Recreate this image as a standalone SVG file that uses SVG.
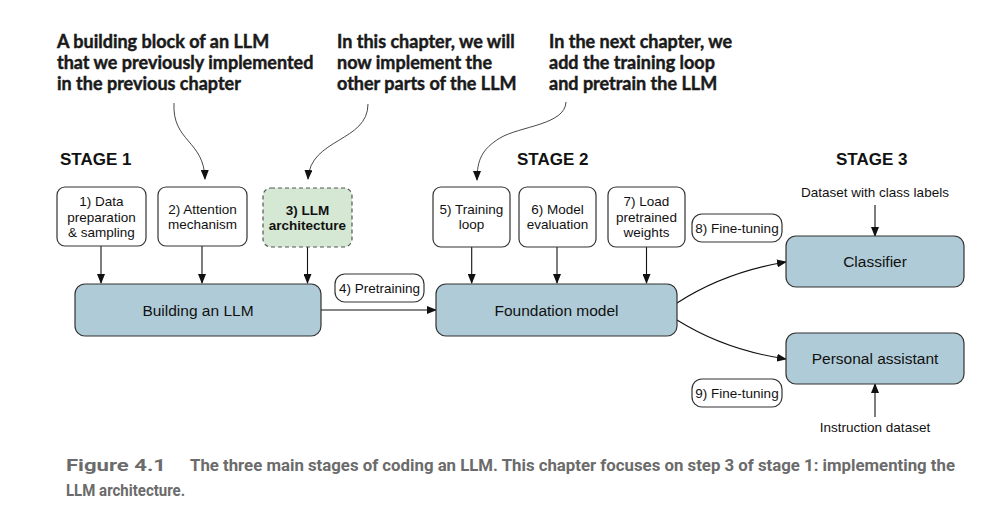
<svg xmlns="http://www.w3.org/2000/svg" width="988" height="520" viewBox="0 0 988 520">
<style>
.ann{font-family:Lato,"Open Sans","Liberation Sans",sans-serif;font-weight:bold;font-size:18px;fill:#1a1a1a;stroke:#1a1a1a;stroke-width:0.45}
.stage{font-family:"Liberation Sans",Arial,sans-serif;font-weight:bold;font-size:17px;fill:#111}
.t{font-family:"Liberation Sans",Arial,sans-serif;font-size:13.5px;fill:#111;text-anchor:middle}
.tb{font-family:"Liberation Sans",Arial,sans-serif;font-size:13.5px;font-weight:bold;fill:#111;text-anchor:middle}
.big{font-family:"Liberation Sans",Arial,sans-serif;font-size:15.5px;fill:#111;text-anchor:middle}
.box{fill:#fff;stroke:#333;stroke-width:1.2}
.blue{fill:#afcbd7;stroke:#333;stroke-width:1.2}
.green{fill:#d5e8d4;stroke:#555;stroke-width:1.2;stroke-dasharray:4 3}
.pill{fill:#fff;stroke:#333;stroke-width:1.2}
.c{fill:none;stroke:#111;stroke-width:1.1}
.cs{fill:none;stroke:#333;stroke-width:0.9}
.cap{font-family:Roboto,"Liberation Sans",sans-serif;font-weight:bold;font-size:16.5px;fill:#6b6b6b}
</style>
<defs>
<marker id="ah" markerUnits="userSpaceOnUse" markerWidth="10" markerHeight="8" refX="9" refY="4" orient="auto">
<path d="M0,0 L10,4 L0,8 z" fill="#111"/>
</marker>
</defs>
<rect width="988" height="520" fill="#fff"/>

<g id="annotations">
<text class="ann" x="57" y="48">A building block of an LLM</text>
<text class="ann" x="57" y="69">that we previously implemented</text>
<text class="ann" x="57" y="90">in the previous chapter</text>
<text class="ann" x="337" y="48">In this chapter, we will</text>
<text class="ann" x="337" y="69">now implement the</text>
<text class="ann" x="337" y="90">other parts of the LLM</text>
<text class="ann" x="549" y="48">In the next chapter, we</text>
<text class="ann" x="549" y="69">add the training loop</text>
<text class="ann" x="549" y="90">and pretrain the LLM</text>
</g>

<g id="stages">
<text class="stage" x="60" y="165">STAGE 1</text>
<text class="stage" x="517" y="165">STAGE 2</text>
<text class="stage" x="836" y="165">STAGE 3</text>
</g>

<g id="connectors">
<path class="cs" d="M174,103 C172,142 204,140 205,179" marker-end="url(#ah)"/>
<path class="cs" d="M368,104 C368,142 310,138 308,179" marker-end="url(#ah)"/>
<path class="cs" d="M566,102 C565,125 520,126 500,138 C482,149 477,160 477,180" marker-end="url(#ah)"/>
<path class="c" d="M101,246 V283" marker-end="url(#ah)"/>
<path class="c" d="M202,246 V283" marker-end="url(#ah)"/>
<path class="c" d="M307.5,247 V283" marker-end="url(#ah)"/>
<path class="c" d="M321,310 H436" marker-end="url(#ah)"/>
<path class="c" d="M471.7,247 V283" marker-end="url(#ah)"/>
<path class="c" d="M557,247 V283" marker-end="url(#ah)"/>
<path class="c" d="M646.5,247 V283" marker-end="url(#ah)"/>
<path class="c" d="M677,303 Q725,272 786,262" marker-end="url(#ah)"/>
<path class="c" d="M677,320 Q725,350 786,359" marker-end="url(#ah)"/>
<path class="c" d="M875,205 V236" marker-end="url(#ah)"/>
<path class="c" d="M875,417 V384" marker-end="url(#ah)"/>
</g>

<g id="n1"><rect class="box" x="57" y="187" width="89" height="59" rx="8"/>
<text class="t" x="101.5" y="206">1) Data</text><text class="t" x="101.5" y="221.5">preparation</text><text class="t" x="101.5" y="237">&amp; sampling</text></g>
<g id="n2"><rect class="box" x="158" y="187" width="89" height="59" rx="8"/>
<text class="t" x="202.5" y="213.5">2) Attention</text><text class="t" x="202.5" y="229">mechanism</text></g>
<g id="n3"><rect class="green" x="263" y="188" width="89" height="59" rx="8"/>
<text class="tb" x="307.5" y="214.5">3) LLM</text><text class="tb" x="307.5" y="230">architecture</text></g>
<g id="n4"><rect class="blue" x="75" y="284" width="246" height="52" rx="10"/>
<text class="big" x="198" y="315.5">Building an LLM</text></g>
<g id="p4"><rect class="pill" x="335" y="274" width="89" height="28" rx="10"/>
<text class="t" x="379.5" y="293">4) Pretraining</text></g>
<g id="n5"><rect class="box" x="433" y="187" width="77" height="60" rx="8"/>
<text class="t" x="471.5" y="213.5">5) Training</text><text class="t" x="471.5" y="229">loop</text></g>
<g id="n6"><rect class="box" x="519" y="187" width="77" height="60" rx="8"/>
<text class="t" x="557.5" y="213.5">6) Model</text><text class="t" x="557.5" y="229">evaluation</text></g>
<g id="n7"><rect class="box" x="608" y="187" width="77" height="60" rx="8"/>
<text class="t" x="646.5" y="206">7) Load</text><text class="t" x="646.5" y="221.5">pretrained</text><text class="t" x="646.5" y="237">weights</text></g>
<g id="n8"><rect class="blue" x="436" y="284" width="241" height="52" rx="10"/>
<text class="big" x="556.5" y="315.5">Foundation model</text></g>
<g id="p8"><rect class="pill" x="692" y="214" width="90" height="28" rx="10"/>
<text class="t" x="737" y="233">8) Fine-tuning</text></g>
<g id="p9"><rect class="pill" x="692" y="379" width="90" height="28" rx="10"/>
<text class="t" x="737" y="398">9) Fine-tuning</text></g>
<g id="n9"><rect class="blue" x="786" y="236" width="178" height="51" rx="10"/>
<text class="big" x="875" y="267">Classifier</text></g>
<g id="n10"><rect class="blue" x="786" y="333" width="178" height="51" rx="10"/>
<text class="big" x="875" y="364">Personal assistant</text></g>
<g id="l1"><text class="t" x="875" y="197">Dataset with class labels</text></g>
<g id="l2"><text class="t" x="875" y="432">Instruction dataset</text></g>

<g id="caption">
<text class="cap" x="66" y="471" textLength="100" lengthAdjust="spacingAndGlyphs">Figure 4.1</text>
<text class="cap" x="190" y="471" textLength="765" lengthAdjust="spacingAndGlyphs">The three main stages of coding an LLM. This chapter focuses on step 3 of stage 1: implementing the</text>
<text class="cap" x="66" y="496" textLength="119" lengthAdjust="spacingAndGlyphs">LLM architecture.</text>
</g>
</svg>
